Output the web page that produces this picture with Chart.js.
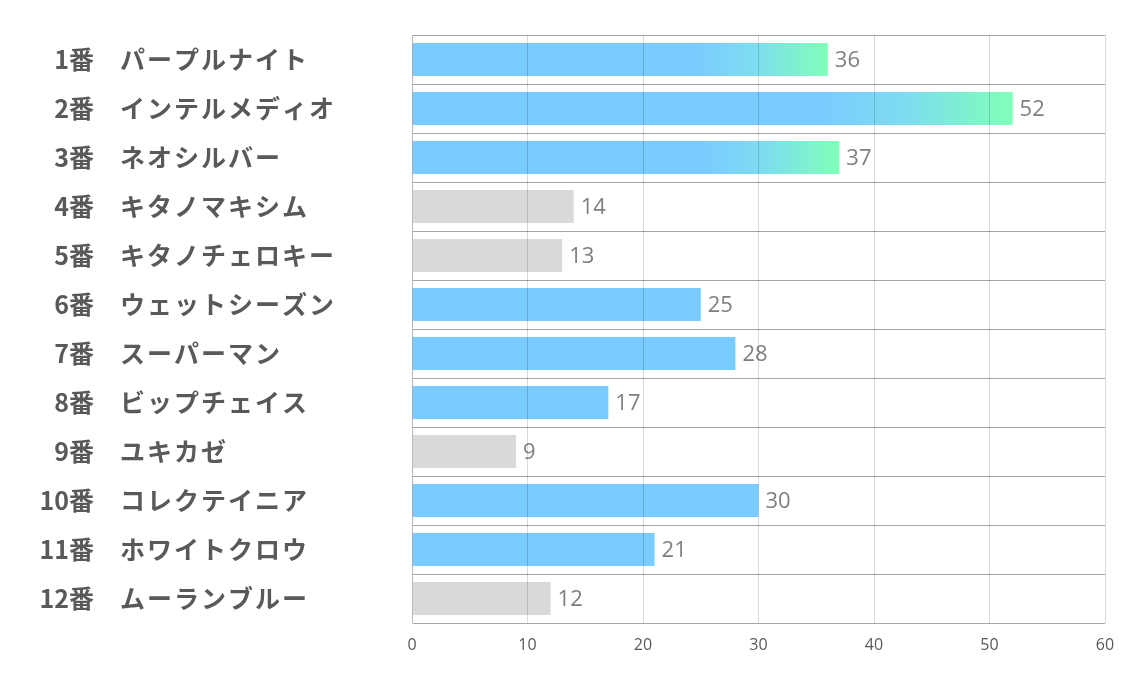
<!DOCTYPE html>
<html>
<head>
<meta charset="utf-8">
<script src="https://cdn.jsdelivr.net/npm/chart.js@4"></script>
<style>
  html, body { margin: 0; padding: 0; background: #fff; }
  #wrap { width: 1134px; height: 680px; }
</style>
</head>
<body>
<div id="wrap"><canvas id="canvas" width="1134" height="680"></canvas></div>
<script>
const nums = ["1番", "2番", "3番", "4番", "5番", "6番", "7番", "8番", "9番", "10番", "11番", "12番"];
const names = ["パープルナイト", "インテルメディオ", "ネオシルバー", "キタノマキシム", "キタノチェロキー", "ウェットシーズン", "スーパーマン", "ビップチェイス", "ユキカゼ", "コレクテイニア", "ホワイトクロウ", "ムーランブルー"];
const values = [36, 52, 37, 14, 13, 25, 28, 17, 9, 30, 21, 12];
// 0 = gray, 1 = blue, 2 = blue fading to green
const kinds = [2, 2, 2, 0, 0, 1, 1, 1, 0, 1, 1, 0];
const xTicks = [0, 10, 20, 30, 40, 50, 60];

const BLUE = "#7acbff";
const GREEN = "#80ffb8";
const GRAY = "#d9d9d9";

const ctx = document.getElementById("canvas").getContext("2d");

const barColor = (c) => {
  const k = kinds[c.dataIndex];
  if (k === 0) return GRAY;
  if (k === 1) return BLUE;
  const area = c.chart.chartArea;
  if (!area) return BLUE;
  const xs = c.chart.scales.x;
  const x0 = xs.getPixelForValue(0);
  const x1 = xs.getPixelForValue(values[c.dataIndex]);
  const g = c.chart.ctx.createLinearGradient(x0, 0, x1, 0);
  g.addColorStop(0, BLUE);
  g.addColorStop(0.68, BLUE);
  g.addColorStop(0.82, "#7ddcf0");
  g.addColorStop(1, GREEN);
  return g;
};

// row labels: number right aligned, horse name left aligned
const rowLabels = {
  id: "rowLabels",
  afterDraw(chart) {
    const c = chart.ctx;
    const ys = chart.scales.y;
    c.save();
    c.fillStyle = "#595959";
    c.textBaseline = "middle";
    c.font = 'bold 25px "Noto Sans CJK JP", sans-serif';
    nums.forEach((n, i) => {
      const y = ys.getPixelForValue(i);
      c.letterSpacing = "0px";
      c.textAlign = "right";
      c.fillText(n, 94, y);
      c.letterSpacing = "2px";
      c.textAlign = "left";
      c.fillText(names[i], 120, y);
    });
    c.restore();
  }
};

// value labels at the end of each bar
const valueLabels = {
  id: "valueLabels",
  afterDatasetsDraw(chart) {
    const c = chart.ctx;
    const meta = chart.getDatasetMeta(0);
    c.save();
    c.fillStyle = "#7f7f7f";
    c.textBaseline = "middle";
    c.textAlign = "left";
    c.font = '22px "Open Sans", "Noto Sans", sans-serif';
    meta.data.forEach((bar, i) => {
      c.fillText(String(values[i]), bar.x + 7, bar.y + 1);
    });
    c.restore();
  }
};

const chart = new Chart(ctx, {
  type: "bar",
  data: {
    labels: names,
    datasets: [{
      data: values,
      backgroundColor: barColor,
      borderWidth: 0,
      categoryPercentage: 1,
      barPercentage: 0.67
    }]
  },
  options: {
    indexAxis: "y",
    responsive: false,
    animation: false,
    layout: { padding: { top: 35, right: 29, left: 0, bottom: 0 } },
    plugins: {
      legend: { display: false },
      tooltip: { enabled: false }
    },
    scales: {
      x: {
        min: 0,
        max: 60,
        afterBuildTicks: (s) => { s.ticks = xTicks.map(v => ({ value: v })); },
        afterFit: (s) => { s.height = 57; },
        grid: { color: "rgba(0,0,0,0.15)", drawTicks: false, z: 1 },
        border: { display: false },
        ticks: {
          padding: 13,
          color: "#595959",
          font: { family: '"Open Sans", sans-serif', size: 16 }
        }
      },
      y: {
        afterFit: (s) => { s.width = 412; },
        grid: { offset: true, color: "#a6a6a6", drawTicks: false },
        border: { display: true, color: "#d9d9d9" },
        ticks: { display: false }
      }
    }
  },
  plugins: [rowLabels, valueLabels]
});
</script>
</body>
</html>
